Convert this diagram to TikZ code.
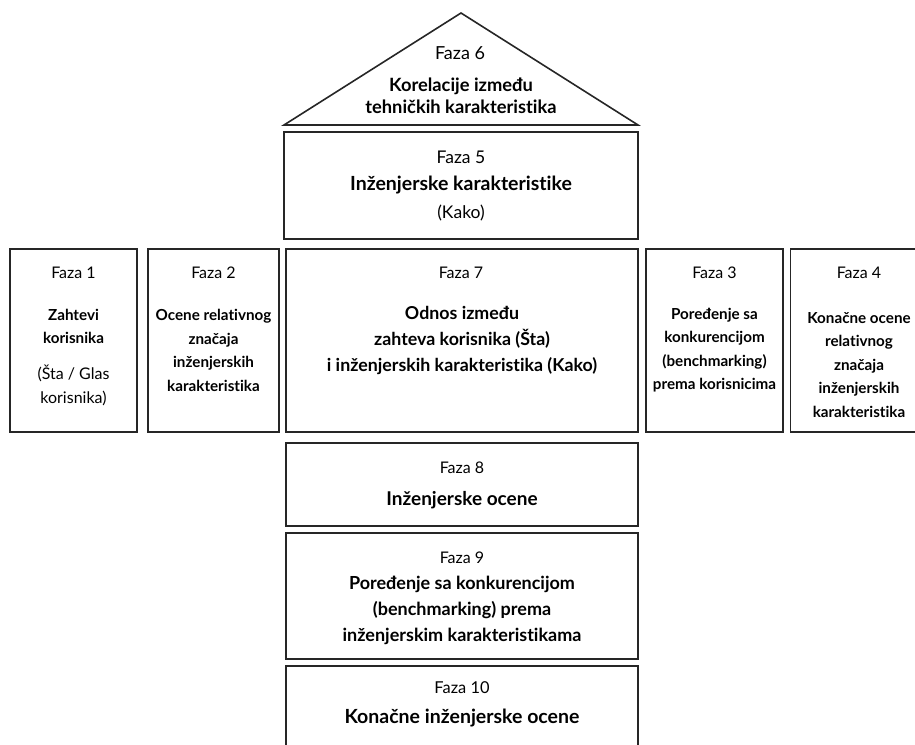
\documentclass[tikz,border=0pt]{standalone}
\usepackage{fontspec}
\setmainfont{Lato}[Ligatures=NoCommon]
\begin{document}
\begin{tikzpicture}[x=1pt,y=-1pt,
  phasebox/.style={draw=black!85, line width=1.6pt, fill=white, inner sep=0pt},
  lbl/.style={inner sep=0pt, align=center, font=\fontsize{#1}{24}\selectfont},
  lbl/.default=16,
  sidebold/.style={inner sep=0pt, align=center, font=\fontsize{15.2}{23.5}\selectfont\bfseries},
  sidenote/.style={inner sep=0pt, align=center, font=\fontsize{16}{24}\selectfont},
  midbold/.style={inner sep=0pt, align=center, font=\fontsize{#1}{26}\selectfont\bfseries},
  midbold/.default=18.5,
  roofbold/.style={inner sep=0pt, align=center, font=\fontsize{18.3}{22}\selectfont\bfseries}]
\useasboundingbox (0,0) rectangle (915,744);
\clip (0,0) rectangle (915,744);

% roof
\coordinate (apex) at (461,13);
\coordinate (eaveL) at (284,125);
\coordinate (eaveR) at (638,125);
\draw[draw=black!85, line width=1.6pt, line join=miter] (eaveL) -- (apex) -- (eaveR) -- cycle;
\node[lbl=18] (f6t) at (460,53) {Faza 6};
\node[roofbold] (f6b) at (461,96) {Korelacije između\\tehničkih karakteristika};

% ceiling row
\node[phasebox, minimum width=354pt, minimum height=107pt] (f5) at (461,185.5) {};
\node[lbl=17.5] (f5t) at (461,157) {Faza 5};
\node[midbold=19.5] (f5b) at (461,185) {Inženjerske karakteristike};
\node[lbl=17.5] (f5n) at (461,213) {(Kako)};

% middle row
\node[phasebox, minimum width=127pt, minimum height=183pt] (f1) at (73.5,340.5) {};
\node[phasebox, minimum width=131pt, minimum height=183pt] (f2) at (213.5,340.5) {};
\node[phasebox, minimum width=352pt, minimum height=183pt] (f7) at (462,340.5) {};
\node[phasebox, minimum width=137pt, minimum height=183pt] (f3) at (714.5,340.5) {};
\node[phasebox, minimum width=137pt, minimum height=183pt] (f4) at (859,340.5) {};

\node[lbl] (f1t) at (73.5,273) {Faza 1};
\node[sidebold] (f1b) at (73.5,326.5) {Zahtevi\\korisnika};
\node[sidenote] (f1n) at (73.5,385) {(Šta / Glas\\korisnika)};

\node[lbl] (f2t) at (213.5,273) {Faza 2};
\node[sidebold] (f2b) at (213.5,350.5) {Ocene relativnog\\značaja\\inženjerskih\\karakteristika};

\node[lbl] (f7t) at (461,273) {Faza 7};
\node[midbold=17.8] (f7b) at (462,340) {Odnos između\\zahteva korisnika (Šta)\\i inženjerskih karakteristika (Kako)};

\node[lbl] (f3t) at (714.5,273) {Faza 3};
\node[sidebold] (f3b) at (714.5,350) {Poređenje sa\\konkurencijom\\(benchmarking)\\prema korisnicima};

\node[lbl] (f4t) at (859,273) {Faza 4};
\node[sidebold] (f4b) at (859,365) {Konačne ocene\\relativnog\\značaja\\inženjerskih\\karakteristika};

% lower rows
\node[phasebox, minimum width=352pt, minimum height=83pt] (f8) at (462,484.5) {};
\node[lbl] (f8t) at (462,468) {Faza 8};
\node[midbold=19] (f8b) at (462,500) {Inženjerske ocene};

\node[phasebox, minimum width=352pt, minimum height=126pt] (f9) at (462,596) {};
\node[lbl] (f9t) at (462,558) {Faza 9};
\node[midbold=18] (f9b) at (462,610) {Poređenje sa konkurencijom\\(benchmarking) prema\\inženjerskim karakteristikama};

\node[phasebox, minimum width=352pt, minimum height=100pt] (f10) at (462,716) {};
\node[lbl=16.4] (f10t) at (462,688) {Faza 10};
\node[midbold=19.5] (f10b) at (462,718) {Konačne inženjerske ocene};
\end{tikzpicture}
\end{document}
